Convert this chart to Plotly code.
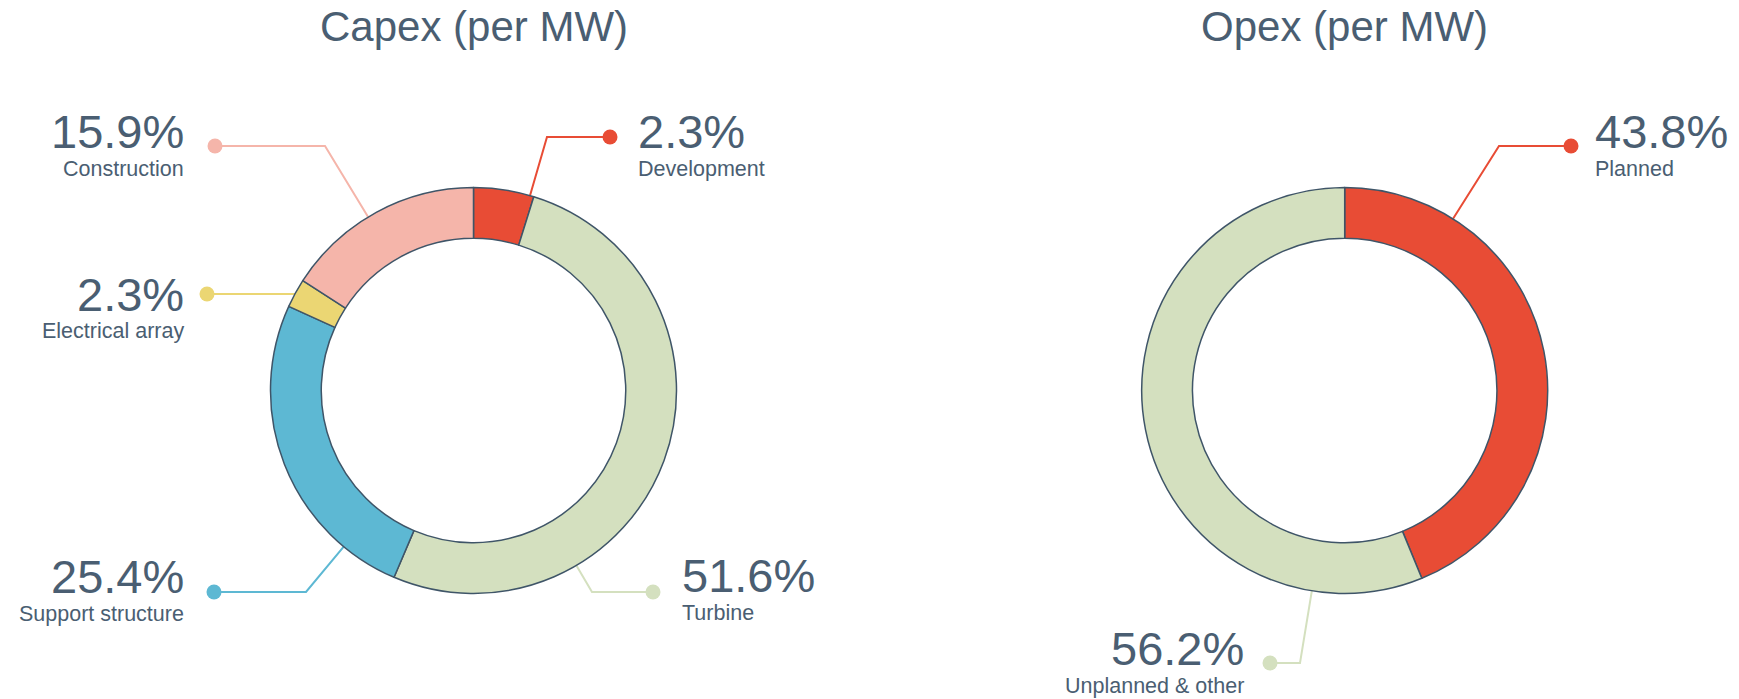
import math
import plotly.graph_objects as go

W, H = 1739, 699

# ---------------- data ----------------
capex_labels = ["Development", "Turbine", "Support structure", "Electrical array", "Construction"]
capex_values = [4.8, 51.6, 25.4, 2.3, 15.9]          # slice sizes as drawn
capex_pct_text = [2.3, 51.6, 25.4, 2.3, 15.9]        # percentages printed on labels
capex_colors = ["#e84c35", "#d4e0bf", "#5db8d3", "#ebd673", "#f5b5aa"]

opex_labels = ["Planned", "Unplanned & other"]
opex_values = [43.8, 56.2]
opex_pct_text = [43.8, 56.2]
opex_colors = ["#e84c35", "#d4e0bf"]

titles = ["Capex (per MW)", "Opex (per MW)"]

# ---------------- style / layout ----------------
TEXT = "#4a5e72"
EDGE = "#3f5568"
FONT = "Liberation Sans, Arial, sans-serif"
R = 203
HOLE = 0.75
centers = [(473.5, 390.5), (1344.7, 390.5)]

capex_place = [
    dict(dot=(610, 137), elbow_x=547, tx=636, ny=131.5, side="right"),
    dict(dot=(653, 592), elbow_x=592, tx=680, ny=575.5, side="right"),
    dict(dot=(214, 592), elbow_x=306, tx=186, ny=576.5, side="left"),
    dict(dot=(207, 294), elbow_x=None, tx=186, ny=294, side="left"),
    dict(dot=(215, 146), elbow_x=325, tx=186, ny=131.5, side="left"),
]
opex_place = [
    dict(dot=(1571, 146), elbow_x=1499, tx=1593, ny=131.5, side="right"),
    dict(dot=(1270, 663), elbow_x=1300, tx=1246, ny=648.5, side="left"),
]

fig = go.Figure()
annotations = []

charts = [
    (capex_labels, capex_values, capex_pct_text, capex_colors, capex_place),
    (opex_labels, opex_values, opex_pct_text, opex_colors, opex_place),
]

for ci, (labels, values, pcts, colors, places) in enumerate(charts):
    cx, cy = centers[ci]
    total = sum(values)
    start = 0.0
    for lab, val, pct, col, pl in zip(labels, values, pcts, colors, places):
        end = start + val / total * 360.0
        dx, dy = pl["dot"]
        if pl["elbow_x"] is None:
            ay = dy
            off = math.sqrt(max(R * R - (ay - cy) ** 2, 0))
            ax = cx - off if dx < cx else cx + off
            xs, ys = [ax, dx], [ay, dy]
        else:
            ex, ey = pl["elbow_x"], dy
            th = math.degrees(math.atan2(ex - cx, -(ey - cy))) % 360
            th = min(max(th, start + 1), end - 1)
            t = math.radians(th)
            ax, ay = cx + R * math.sin(t), cy - R * math.cos(t)
            xs, ys = [ax, ex, dx], [ay, ey, dy]
        fig.add_trace(go.Scatter(x=xs, y=ys, mode="lines", line=dict(color=col, width=2),
                                 hoverinfo="skip", showlegend=False))
        fig.add_trace(go.Scatter(x=[dx], y=[dy], mode="markers",
                                 marker=dict(color=col, size=15, line=dict(width=0)),
                                 hoverinfo="skip", showlegend=False))
        xa = "left" if pl["side"] == "right" else "right"
        annotations.append(dict(x=pl["tx"], y=pl["ny"], xref="x", yref="y", text=f"{pct}%",
                                showarrow=False, xanchor=xa, yanchor="middle",
                                font=dict(family=FONT, size=47, color=TEXT)))
        annotations.append(dict(x=pl["tx"], y=pl["ny"] + 37, xref="x", yref="y", text=lab,
                                showarrow=False, xanchor=xa, yanchor="middle",
                                font=dict(family=FONT, size=21.5, color=TEXT)))
        start = end

    fig.add_trace(go.Pie(
        labels=labels, values=values, sort=False, direction="clockwise", rotation=0,
        hole=HOLE, textinfo="none", hoverinfo="label+percent",
        marker=dict(colors=colors, line=dict(color=EDGE, width=1.5)),
        domain=dict(x=[(cx - R) / W, (cx + R) / W], y=[(H - cy - R) / H, (H - cy + R) / H]),
        showlegend=False,
    ))
    annotations.append(dict(x=cx, y=26, xref="x", yref="y", text=titles[ci], showarrow=False,
                            xanchor="center", yanchor="middle",
                            font=dict(family=FONT, size=42, color=TEXT)))

fig.update_layout(
    width=W, height=H, margin=dict(l=0, r=0, t=0, b=0),
    paper_bgcolor="white", plot_bgcolor="white",
    xaxis=dict(range=[0, W], visible=False, fixedrange=True, domain=[0, 1]),
    yaxis=dict(range=[H, 0], visible=False, fixedrange=True, domain=[0, 1]),
    annotations=annotations, showlegend=False,
)

fig.write_html("out.html", config={"displayModeBar": False},
               post_script="document.body.style.margin='0';document.body.style.overflow='hidden';")
